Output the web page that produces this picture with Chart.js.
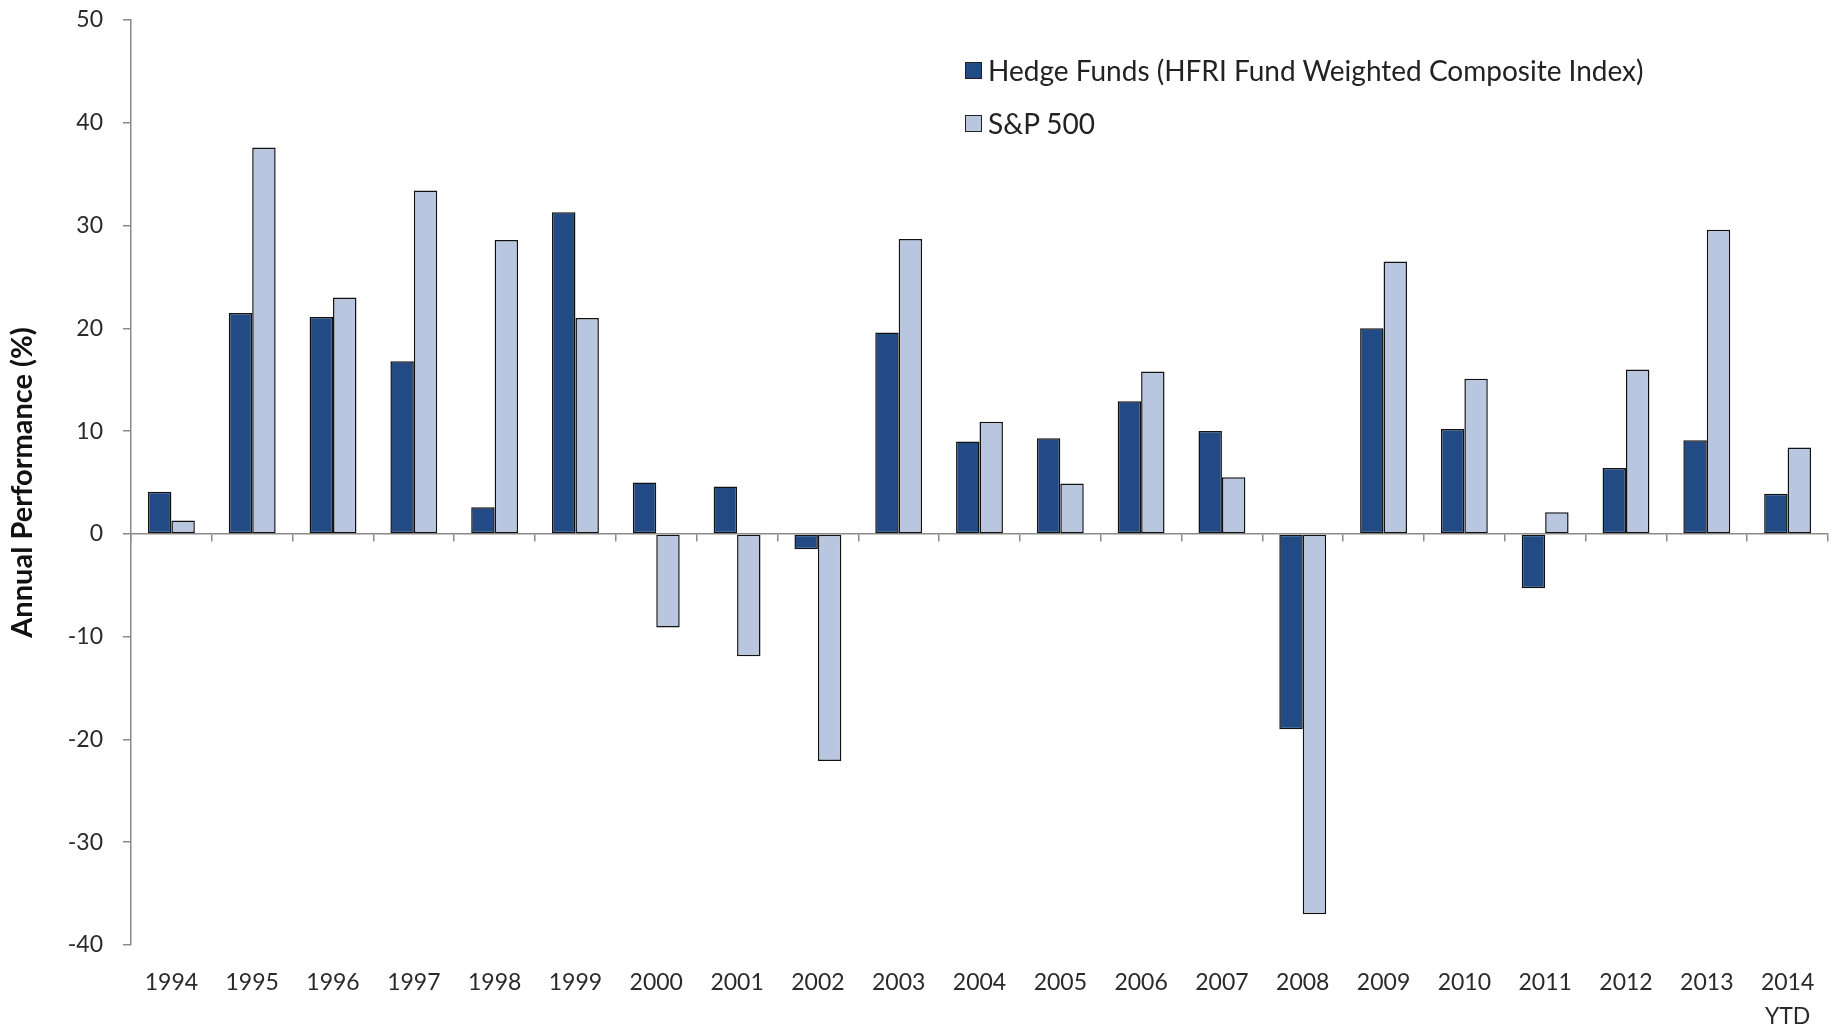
<!DOCTYPE html>
<html>
<head>
<meta charset="utf-8">
<script src="https://cdn.jsdelivr.net/npm/chart.js@4.4.1/dist/chart.umd.min.js"></script>
<style>
  html, body { margin: 0; padding: 0; background: #fff; }
  #wrap { position: relative; width: 1836px; height: 1029px; }
  #legend { position: absolute; left: 965px; top: 52px; font-family: Lato, "Open Sans", sans-serif; font-size: 28px; color: #222; }
  #legend div { display: flex; align-items: center; height: 36px; margin-bottom: 17px; }
  #legend span.box { display: inline-block; width: 15px; height: 15px; border: 1.5px solid #222; margin-right: 6px; }
</style>
</head>
<body>
<div id="wrap">
  <canvas id="perfChart" width="1836" height="1029"></canvas>
  <div id="legend"></div>
</div>
<script>
// annual returns
var years = ['1994', '1995', '1996', '1997', '1998', '1999', '2000', '2001', '2002', '2003', '2004',
             '2005', '2006', '2007', '2008', '2009', '2010', '2011', '2012', '2013', ['2014', 'YTD']];
var hedgeFunds = [4.1, 21.5, 21.1, 16.8, 2.6, 31.3, 5.0, 4.6, -1.5, 19.6, 9.0,
                  9.3, 12.9, 10.0, -19.0, 20.0, 10.2, -5.3, 6.4, 9.1, 3.9];
var sp500 = [1.3, 37.6, 23.0, 33.4, 28.6, 21.0, -9.1, -11.9, -22.1, 28.7, 10.9,
             4.9, 15.8, 5.5, -37.0, 26.5, 15.1, 2.1, 16.0, 29.6, 8.4];
var seriesNames = ['Hedge Funds (HFRI Fund Weighted Composite Index)', 'S&P 500'];
var yTicks = [-40, -30, -20, -10, 0, 10, 20, 30, 40, 50];

var axisGrey = '#8a8a8a';
var textCol = '#2a2a2a';
var fontFam = 'Lato, "Open Sans", sans-serif';

Chart.defaults.font.family = fontFam;
Chart.defaults.color = textCol;

var chart = new Chart(document.getElementById('perfChart'), {
    type: 'bar',
    data: {
        labels: years,
        datasets: [{
            label: seriesNames[0],
            data: hedgeFunds,
            backgroundColor: '#224a84',
            borderColor: '#111',
            borderWidth: 1.5,
            borderSkipped: false
        }, {
            label: seriesNames[1],
            data: sp500,
            backgroundColor: '#b8c6df',
            borderColor: '#111',
            borderWidth: 1.5,
            borderSkipped: false
        }]
    },
    options: {
        responsive: false,
        animation: false,
        layout: { padding: { top: 20, right: 8, left: 0, bottom: 0 } },
        datasets: { bar: { categoryPercentage: 0.58, barPercentage: 1.0 } },
        plugins: {
            legend: { display: false },
            tooltip: { enabled: false }
        },
        scales: {
            x: {
                position: 'bottom',
                grid: { display: false },
                border: { display: false },
                ticks: { font: { size: 23, lineHeight: 1.5 }, padding: 12, maxRotation: 0, autoSkip: false },
                afterFit: function (scale) { scale.height = 84; }
            },
            xZero: {
                type: 'category',
                labels: years,
                position: { y: 0 },
                offset: true,
                grid: { offset: true, drawOnChartArea: false, drawTicks: true, tickLength: 7, color: axisGrey, lineWidth: 1.5 },
                border: { display: true, color: axisGrey, width: 1.5 },
                ticks: { display: false }
            },
            y: {
                min: -40,
                max: 50,
                afterBuildTicks: function (scale) {
                    scale.ticks = yTicks.map(function (v) { return { value: v }; });
                },
                grid: { drawOnChartArea: false, drawTicks: true, tickLength: 8, color: axisGrey, lineWidth: 1.5 },
                border: { display: true, color: axisGrey, width: 1.5 },
                ticks: { font: { size: 23 }, padding: 20 },
                title: {
                    display: true,
                    text: 'Annual Performance (%)',
                    font: { size: 29, weight: 'bold' },
                    color: '#111',
                    padding: { top: 5, bottom: 0 }
                },
                afterFit: function (scale) {
                    scale.width = 131;
                    // the label padding would push the plot down; the layout padding covers it
                    scale.paddingTop = 0;
                    scale.paddingBottom = 0;
                }
            }
        }
    }
});

// legend stacked in the plot's upper right, like the original
var legendEl = document.getElementById('legend');
chart.data.datasets.forEach(function (ds) {
    var row = document.createElement('div');
    var box = document.createElement('span');
    box.className = 'box';
    box.style.background = ds.backgroundColor;
    row.appendChild(box);
    row.appendChild(document.createTextNode(ds.label));
    legendEl.appendChild(row);
});
</script>
</body>
</html>
